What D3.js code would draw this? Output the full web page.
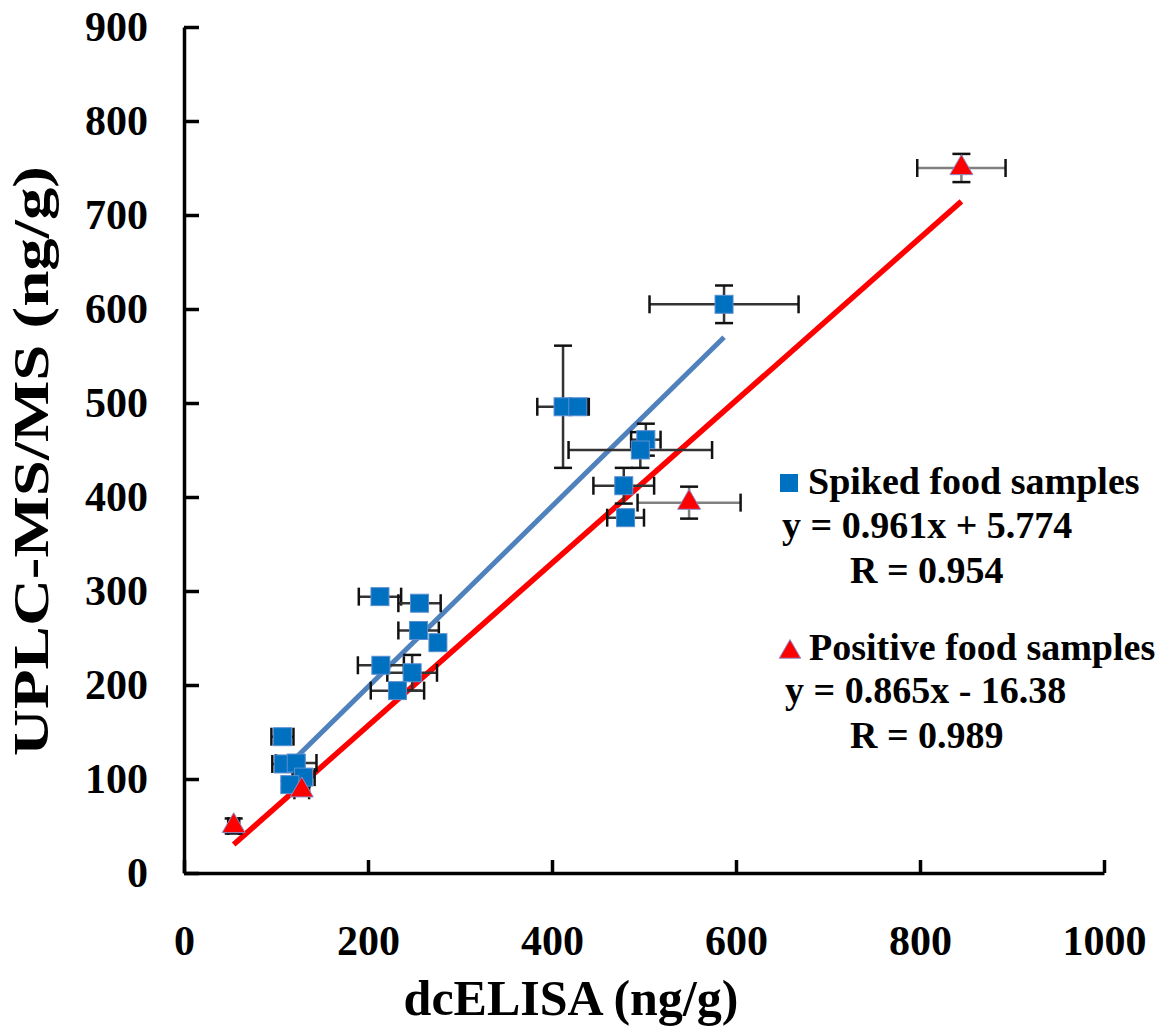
<!DOCTYPE html>
<html>
<head>
<meta charset="utf-8">
<script src="https://cdn.jsdelivr.net/npm/d3@7"></script>
<style>
  body { margin: 0; background: #fff; }
  text { font-family: "Liberation Serif", "Times New Roman", serif; font-weight: bold; fill: #000; }
</style>
</head>
<body>
<div id="chart"></div>
<script>
// spiked food samples (blue squares)
const spikedX    = [213, 256, 255, 276, 214, 248, 232, 107, 108, 122, 130, 115, 412, 428, 502, 496, 478, 480, 587];
const spikedY    = [294, 287, 258, 245, 221, 213, 194, 145, 116, 117, 102, 94, 496, 496, 461, 450, 412, 378, 605];
const spikedXErr = [23, 23, 22, 6, 25, 27, 29, 12, 12, 22, 12, 8, 28, 10, 16, 78, 33, 20, 81];
const spikedYErr = [3, 4, 4, 4, 4, 19, 6, 4, 4, 4, 4, 4, 65, 4, 17, 19, 19, 6, 20];

// positive food samples (red triangles)
const positiveX    = [54, 128, 549, 845];
const positiveY    = [50, 88, 394, 750];
const positiveXErr = [6, 8, 56, 48];
const positiveYErr = [8, 4, 17, 15];

// linear fits shown in the legend
const fitSlope = [0.961, 0.865];
const fitIntercept = [5.774, -16.38];
const seriesNames = ["Spiked food samples", "Positive food samples"];
const fitLabels = ["y = 0.961x + 5.774", "y = 0.865x - 16.38"];
const rLabels = ["R = 0.954", "R = 0.989"];

const xTicks = [0, 200, 400, 600, 800, 1000];
const yTicks = [0, 100, 200, 300, 400, 500, 600, 700, 800, 900];

const width = 1175, height = 1032;

const x = d3.scaleLinear().domain([0, 1000]).range([184, 1104]);
const y = d3.scaleLinear().domain([0, 900]).range([873, 27]);

const svg = d3.select("#chart")
    .append("svg")
    .attr("width", width)
    .attr("height", height);

const spiked = spikedX.map((v, i) => ({x: v, y: spikedY[i], xe: spikedXErr[i], ye: spikedYErr[i]}));
const positive = positiveX.map((v, i) => ({x: v, y: positiveY[i], xe: positiveXErr[i], ye: positiveYErr[i]}));

// regression lines
const lineColors = ["#4f81bd", "#ff0000"];
const lineWidths = [5, 5.5];
[spiked, positive].forEach((data, k) => {
    const ext = d3.extent(data, d => d.x);
    const pts = ext.map(v => [v, fitSlope[k] * v + fitIntercept[k]]);
    svg.append("path")
        .attr("d", d3.line().x(d => x(d[0])).y(d => y(d[1]))(pts))
        .attr("stroke", lineColors[k])
        .attr("stroke-width", lineWidths[k])
        .attr("fill", "none");
});

// error bars
const cap = 9;
function errorBars(data, color) {
    const g = svg.append("g").attr("stroke-width", 2.5);
    data.forEach(d => {
        const cx = x(d.x), cy = y(d.y);
        const x0 = x(d.x - d.xe), x1 = x(d.x + d.xe);
        const y0 = y(d.y - d.ye), y1 = y(d.y + d.ye);
        g.append("line").attr("x1", x0).attr("x2", x1).attr("y1", cy).attr("y2", cy).attr("stroke", color);
        g.append("line").attr("x1", cx).attr("x2", cx).attr("y1", y0).attr("y2", y1).attr("stroke", color);
        [x0, x1].forEach(v => g.append("line").attr("x1", v).attr("x2", v)
            .attr("y1", cy - cap).attr("y2", cy + cap).attr("stroke", "#111"));
        [y0, y1].forEach(v => g.append("line").attr("x1", cx - cap).attr("x2", cx + cap)
            .attr("y1", v).attr("y2", v).attr("stroke", "#111"));
    });
}
errorBars(spiked, "#333");
errorBars(positive, "#808080");

// markers
const sq = 18;
svg.append("g").selectAll("rect")
    .data(spiked)
    .enter()
    .append("rect")
    .attr("x", d => x(d.x) - sq / 2)
    .attr("y", d => y(d.y) - sq / 2)
    .attr("width", sq)
    .attr("height", sq)
    .attr("fill", "#0070c0")
    .attr("stroke", "#5b8fd0")
    .attr("stroke-width", 1);

const tri = d3.symbol().type(d3.symbolTriangle).size(230);
svg.append("g").selectAll("path")
    .data(positive)
    .enter()
    .append("path")
    .attr("d", tri)
    .attr("transform", d => `translate(${x(d.x)},${y(d.y)})`)
    .attr("fill", "#ff0000")
    .attr("stroke", "#8c8cc8")
    .attr("stroke-width", 1);

// axes
const xAxis = d3.axisBottom(x).tickValues(xTicks).tickFormat(d3.format("d"))
    .tickSize(-13).tickSizeOuter(0).tickPadding(52);
const yAxis = d3.axisLeft(y).tickValues(yTicks).tickFormat(d3.format("d"))
    .tickSize(-15).tickSizeOuter(0).tickPadding(36);

const gx = svg.append("g").attr("transform", "translate(0,873)").call(xAxis);
const gy = svg.append("g").attr("transform", "translate(184,0)").call(yAxis);
[gx, gy].forEach(g => {
    g.select(".domain").attr("stroke", "#000").attr("stroke-width", 3.5);
    g.selectAll(".tick line").attr("stroke", "#000").attr("stroke-width", 3.5);
    g.selectAll(".tick text")
        .style("font-family", "'Liberation Serif', 'Times New Roman', serif")
        .style("font-weight", "bold")
        .style("font-size", "42px")
        .attr("fill", "#000");
});

// axis titles
svg.append("text")
    .attr("x", 571)
    .attr("y", 1015)
    .attr("text-anchor", "middle")
    .style("font-size", "50px")
    .text("dcELISA (ng/g)");

svg.append("text")
    .attr("transform", "translate(48,461) rotate(-90)")
    .attr("text-anchor", "middle")
    .attr("textLength", 590)
    .attr("lengthAdjust", "spacingAndGlyphs")
    .style("font-size", "50px")
    .text("UPLC-MS/MS (ng/g)");

// legend
const legend = svg.append("g");
legend.append("rect")
    .attr("x", 780).attr("y", 474).attr("width", 18).attr("height", 18)
    .attr("fill", "#0070c0");
legend.append("path")
    .attr("d", d3.symbol().type(d3.symbolTriangle).size(200))
    .attr("transform", "translate(790,652)")
    .attr("fill", "#ff0000")
    .attr("stroke", "#8c8cc8");

const legendRows = [
    {t: seriesNames[0], x: 808, y: 494},
    {t: fitLabels[0], x: 782, y: 538},
    {t: rLabels[0], x: 850, y: 583},
    {t: seriesNames[1], x: 809, y: 660},
    {t: fitLabels[1], x: 785, y: 703},
    {t: rLabels[1], x: 850, y: 748}
];
legend.selectAll("text.row")
    .data(legendRows)
    .enter()
    .append("text")
    .classed("row", true)
    .attr("x", d => d.x)
    .attr("y", d => d.y)
    .style("font-size", "38px")
    .text(d => d.t);
</script>
</body>
</html>
